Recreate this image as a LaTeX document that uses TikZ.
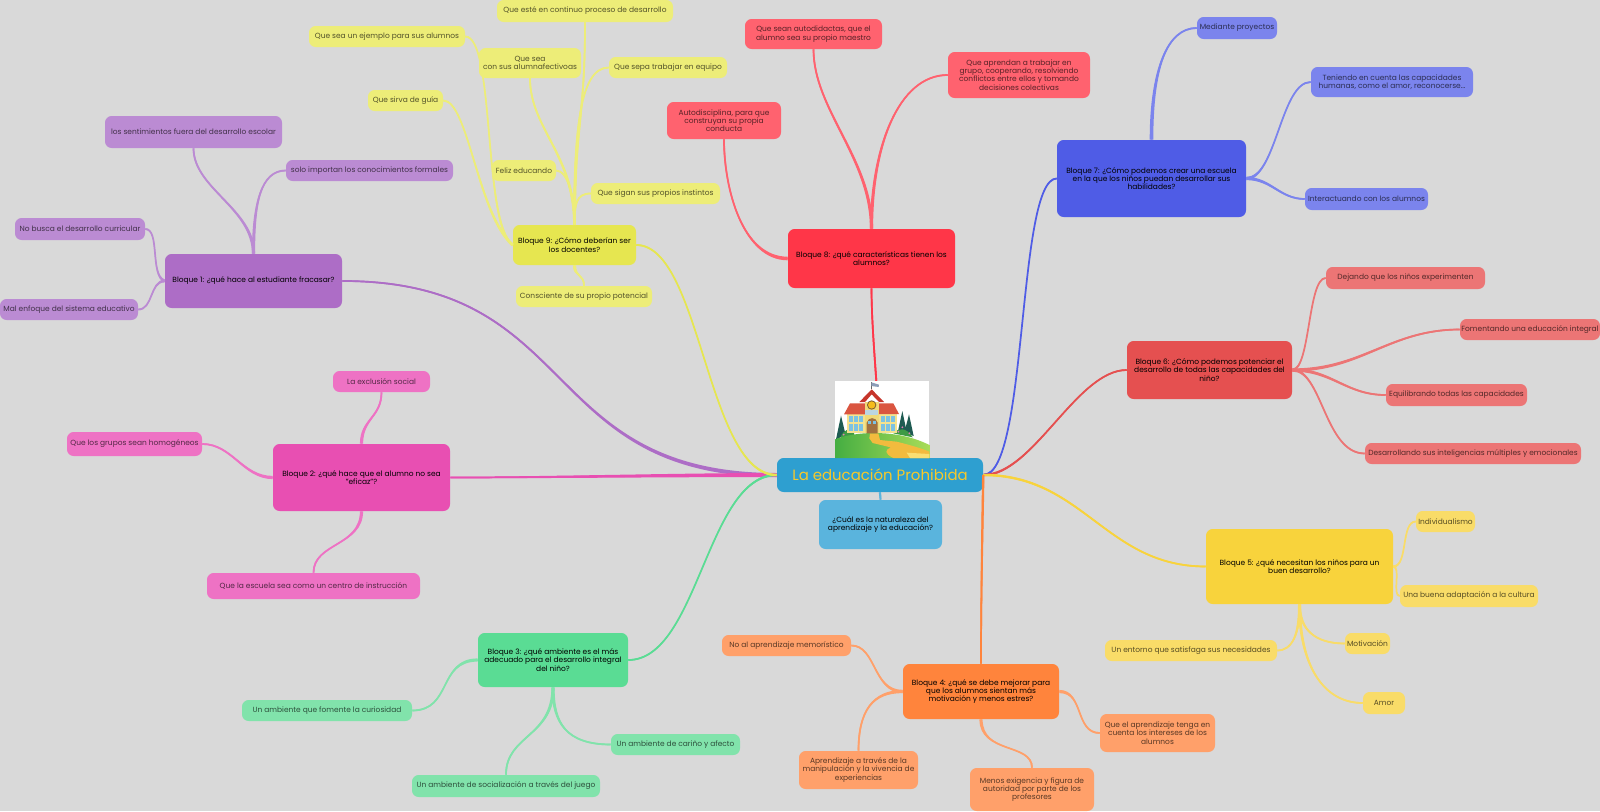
\documentclass[tikz,border=0pt]{standalone}
\usepackage{fontspec}
\setmainfont{Poppins}
\usetikzlibrary{calc}
\definecolor{bgc}{HTML}{D9D9D9}
\definecolor{rootc}{HTML}{2E9FD0}\definecolor{rootk}{HTML}{5AB4DD}\definecolor{titlec}{HTML}{F7C92A}
\definecolor{purm}{HTML}{AD6DC6}\definecolor{purk}{HTML}{BB8BD3}
\definecolor{pinm}{HTML}{E84FB2}\definecolor{pink}{HTML}{EE72C4}
\definecolor{grem}{HTML}{5ADC94}\definecolor{grek}{HTML}{81E3AB}
\definecolor{oram}{HTML}{FF843C}\definecolor{orak}{HTML}{FFA06A}
\definecolor{yelm}{HTML}{F8D33C}\definecolor{yelk}{HTML}{F9DC68}
\definecolor{redm}{HTML}{E55050}\definecolor{redk}{HTML}{EC7575}
\definecolor{blum}{HTML}{4F5CE6}\definecolor{bluk}{HTML}{7B84ED}
\definecolor{crim}{HTML}{FF3648}\definecolor{crik}{HTML}{FF626F}
\definecolor{limm}{HTML}{E6E650}\definecolor{limk}{HTML}{EDED78}
\definecolor{hilld}{HTML}{45AE42}\definecolor{hillm}{HTML}{6CC64A}\definecolor{hilll}{HTML}{A9DC58}
\definecolor{busho}{HTML}{3E9A45}\definecolor{treec}{HTML}{1E5B52}\definecolor{flowc}{HTML}{E77BB5}
\definecolor{pathc}{HTML}{F2BB3E}\definecolor{pathl}{HTML}{F9DF72}\definecolor{wallc}{HTML}{F4E28E}
\definecolor{towc}{HTML}{F0DA78}\definecolor{winc}{HTML}{7CC2E2}\definecolor{roofc}{HTML}{DA5540}
\definecolor{gabc}{HTML}{C6352B}\definecolor{bellc}{HTML}{F5BC1C}\definecolor{bellr}{HTML}{7A5A32}
\definecolor{signc}{HTML}{BBD6E2}\definecolor{doorc}{HTML}{A0703F}\definecolor{flagc}{HTML}{8C9DB8}
\tikzset{
  boxbase/.style={rounded corners=5pt,inner sep=0pt,align=center,font=\fontsize{5.6}{6.2}\selectfont},
  mainbox/.style={boxbase,fill=#1,text=black},
  kidbox/.style={boxbase,fill=#1,text=#1!35!black},
}
\newcommand{\bx}[7]{%
  \pgfmathsetmacro\bxcx{(#3+#5)/2}\pgfmathsetmacro\bxcy{(#4+#6)/2}%
  \pgfmathsetmacro\bxw{(#5-#3)*0.75}\pgfmathsetmacro\bxh{(#6-#4)*0.75}%
  \node[#1,minimum width=\bxw pt,minimum height=\bxh pt] (#2) at (\bxcx,\bxcy) {#7};}
% colour, parent anchor, c1x, c1y, c2x, c2y, child anchor, half width at parent
\newcommand{\conn}[8]{%
  \draw[#1,line width=1.3pt] (#2) .. controls +(#3,#4) and +(#5,#6) .. (#7);
  \pgfmathsetmacro\la{veclen(#3,#4)}\pgfmathsetmacro\lb{veclen(#5,#6)}%
  \pgfmathsetmacro\pax{-(#4)/\la*#8}\pgfmathsetmacro\pay{(#3)/\la*#8}%
  \pgfmathsetmacro\qax{(#6)/\lb*0.8}\pgfmathsetmacro\qay{-(#5)/\lb*0.8}%
  \fill[#1] ($(#2)+(\pax,\pay)$) .. controls +(#3,#4) and +(#5,#6) .. ($(#7)+(\qax,\qay)$)
     -- ($(#7)-(\qax,\qay)$) .. controls +(#5,#6) and +(#3,#4) .. ($(#2)-(\pax,\pay)$) -- cycle;}
\begin{document}
\begin{tikzpicture}[x=0.75pt,y=-0.75pt]
\useasboundingbox (0,0) rectangle (1600,811);
\fill[bgc] (0,0) rectangle (1600,811);
% central
\bx{boxbase,fill=rootc,text=titlec,font=\fontsize{11.2}{13}\selectfont}{root}{777}{458}{983}{492}{La educación Prohibida}
\bx{mainbox=rootk}{cual}{819}{500}{942}{549}{¿Cuál es la naturaleza del\\aprendizaje y la educación?}
% bloque 1
\bx{mainbox=purm}{ba}{165}{254}{342}{308}{Bloque 1: ¿qué hace al estudiante fracasar?}
\bx{kidbox=purk}{aa}{105}{116}{282}{148}{los sentimientos fuera del desarrollo escolar}
\bx{kidbox=purk}{ab}{286}{160}{453}{181}{solo importan los conocimientos formales}
\bx{kidbox=purk}{ac}{15}{218}{145}{240}{No busca el desarrollo curricular}
\bx{kidbox=purk}{ad}{0}{299}{138}{320}{Mal enfoque del sistema educativo}
% bloque 2
\bx{mainbox=pinm}{bb}{273}{444}{450}{511}{Bloque 2: ¿qué hace que el alumno no sea\\"eficaz"?}
\bx{kidbox=pink}{ba1}{333}{371}{430}{392}{La exclusión social}
\bx{kidbox=pink}{ba2}{67}{432}{202}{456}{Que los grupos sean homogéneos}
\bx{kidbox=pink}{ba3}{207}{573}{420}{599}{Que la escuela sea como un centro de instrucción}
% bloque 3
\bx{mainbox=grem}{bc}{478}{633}{628}{687}{Bloque 3: ¿qué ambiente es el más\\adecuado para el desarrollo integral\\del niño?}
\bx{kidbox=grek}{ca}{242}{700}{412}{721}{Un ambiente que fomente la curiosidad}
\bx{kidbox=grek}{cb}{611}{734}{740}{755}{Un ambiente de cariño y afecto}
\bx{kidbox=grek}{cc}{412}{775}{600}{797}{Un ambiente de socialización a través del juego}
% bloque 4
\bx{mainbox=oram}{bd}{903}{664}{1059}{719}{Bloque 4: ¿qué se debe mejorar para\\que los alumnos sientan más\\motivación y menos estres?}
\bx{kidbox=orak}{da}{722}{635}{851}{656}{No al aprendizaje memorístico}
\bx{kidbox=orak}{db}{799}{751}{918}{789}{Aprendizaje a través de la\\manipulación y la vivencia de\\experiencias}
\bx{kidbox=orak}{dc}{970}{768}{1094}{811}{Menos exigencia y figura de\\autoridad por parte de los\\profesores}
\bx{kidbox=orak}{dd}{1100}{714}{1215}{752}{Que el aprendizaje tenga en\\cuenta los intereses de los\\alumnos}
% bloque 5
\bx{mainbox=yelm}{be}{1206}{529}{1393}{604}{Bloque 5: ¿qué necesitan los niños para un\\buen desarrollo?}
\bx{kidbox=yelk}{ea}{1416}{511}{1475}{532}{Individualismo}
\bx{kidbox=yelk}{eb}{1400}{585}{1538}{607}{Una buena adaptación a la cultura}
\bx{kidbox=yelk}{ec}{1345}{633}{1390}{654}{Motivación}
\bx{kidbox=yelk}{ed}{1363}{692}{1405}{714}{Amor}
\bx{kidbox=yelk}{ef}{1105}{640}{1277}{661}{Un entorno que satisfaga sus necesidades}
% bloque 6
\bx{mainbox=redm}{bf}{1127}{341}{1292}{399}{Bloque 6: ¿Cómo podemos potenciar el\\desarrollo de todas las capacidades del\\niño?}
\bx{kidbox=redk}{fa}{1326}{267}{1485}{289}{Dejando que los niños experimenten}
\bx{kidbox=redk}{fb}{1460}{319}{1600}{340}{Fomentando una educación integral}
\bx{kidbox=redk}{fc}{1386}{384}{1527}{406}{Equilibrando todas las capacidades}
\bx{kidbox=redk}{fd}{1365}{443}{1581}{464}{Desarrollando sus inteligencias múltiples y emocionales}
% bloque 7
\bx{mainbox=blum}{bg}{1057}{140}{1246}{217}{Bloque 7: ¿Cómo podemos crear una escuela\\en la que los niños puedan desarrollar sus\\habilidades?}
\bx{kidbox=bluk}{ga}{1197}{17}{1277}{39}{Mediante proyectos}
\bx{kidbox=bluk}{gb}{1311}{67}{1473}{97}{Teniendo en cuenta las capacidades\\humanas, como el amor, reconocerse...}
\bx{kidbox=bluk}{gc}{1305}{188}{1428}{210}{Interactuando con los alumnos}
% bloque 8
\bx{mainbox=crim}{bh}{788}{229}{955}{288}{Bloque 8: ¿qué características tienen los\\alumnos?}
\bx{kidbox=crik}{ha}{745}{19}{882}{49}{Que sean autodidactas, que el\\alumno sea su propio maestro}
\bx{kidbox=crik}{hb}{667}{102}{781}{139}{Autodisciplina, para que\\construyan su propia\\conducta}
\bx{kidbox=crik}{hc}{948}{52}{1090}{98}{Que aprendan a trabajar en\\grupo, cooperando, resolviendo\\conflictos entre ellos y tomando\\decisiones colectivas}
% bloque 9
\bx{mainbox=limm}{bi}{513}{225}{636}{265}{Bloque 9: ¿Cómo deberían ser\\los docentes?}
\bx{kidbox=limk}{ia}{497}{0}{673}{22}{Que esté en continuo proceso de desarrollo}
\bx{kidbox=limk}{ib}{309}{26}{465}{47}{Que sea un ejemplo para sus alumnos}
\bx{kidbox=limk}{ic}{479}{48}{581}{78}{Que sea\\con sus alumnafectivoas}
\bx{kidbox=limk}{id}{609}{57}{727}{78}{Que sepa trabajar en equipo}
\bx{kidbox=limk}{ie}{368}{90}{443}{111}{Que sirva de guía}
\bx{kidbox=limk}{if}{492}{160}{556}{181}{Feliz educando}
\bx{kidbox=limk}{ig}{591}{183}{720}{204}{Que sigan sus propios instintos}
\bx{kidbox=limk}{ih}{516}{286}{652}{307}{Consciente de su propio potencial}
% connectors: root to blocks
\conn{purm}{root.west}{-240}{0}{240}{0}{ba.east}{2}
\conn{pinm}{root.west}{-100}{0}{100}{0}{bb.east}{2}
\conn{grem}{root.west}{-70}{0}{70}{0}{bc.east}{1.2}
\conn{limm}{root.west}{-70}{0}{65}{0}{bi.east}{1.2}
\conn{blum}{root.east}{45}{0}{-40}{0}{bg.west}{1.2}
\conn{redm}{root.east}{50}{0}{-50}{0}{bf.west}{1.2}
\conn{yelm}{root.east}{100}{0}{-100}{0}{be.west}{1.2}
\conn{oram}{root.east}{-1}{60}{0}{-60}{bd.north}{1.2}
\conn{crim}{root.north}{0}{-50}{0}{50}{bh.south}{1.0}
\conn{rootk}{root.south}{0}{3}{0}{-3}{cual.north}{1.2}
% block 1
\conn{purk}{ba.north}{0}{-45}{0}{40}{aa.south}{1.6}
\conn{purk}{ba.north}{0}{-50}{-25}{0}{ab.west}{1.6}
\conn{purk}{ba.west}{-15}{-5}{15}{0}{ac.east}{1.4}
\conn{purk}{ba.west}{-15}{0}{15}{0}{ad.east}{1.4}
% block 2
\conn{pink}{bb.north}{0}{-25}{0}{25}{ba1.south}{1.6}
\conn{pink}{bb.west}{-30}{0}{30}{0}{ba2.east}{1.6}
\conn{pink}{bb.south}{0}{35}{0}{-30}{ba3.north}{1.6}
% block 3
\conn{grek}{bc.west}{-40}{0}{40}{0}{ca.east}{1.6}
\conn{grek}{bc.south}{0}{35}{-45}{0}{cb.west}{1.6}
\conn{grek}{bc.south}{0}{50}{0}{-40}{cc.north}{1.6}
% block 4
\conn{orak}{bd.west}{-30}{0}{25}{0}{da.east}{1.6}
\conn{orak}{bd.west}{-30}{0}{0}{-40}{db.north}{1.6}
\conn{orak}{bd.south}{0}{35}{0}{-25}{dc.north}{1.6}
\conn{orak}{bd.east}{25}{0}{-25}{0}{dd.west}{1.6}
% block 5
\conn{yelk}{be.east}{15}{0}{-15}{0}{ea.west}{1.2}
\conn{yelk}{be.east}{8}{0}{-8}{0}{eb.west}{1.2}
\conn{yelk}{be.south}{0}{25}{-30}{0}{ec.west}{1.5}
\conn{yelk}{be.south}{0}{60}{-40}{0}{ed.west}{1.5}
\conn{yelk}{be.south}{0}{30}{15}{0}{ef.east}{1.5}
% block 6
\conn{redk}{bf.east}{18}{0}{-18}{0}{fa.west}{1.5}
\conn{redk}{bf.east}{70}{0}{-70}{0}{fb.west}{1.6}
\conn{redk}{bf.east}{40}{0}{-40}{0}{fc.west}{1.6}
\conn{redk}{bf.east}{30}{0}{-40}{0}{fd.west}{1.5}
% block 7
\conn{bluk}{bg.north}{0}{-70}{-30}{0}{ga.west}{1.8}
\conn{bluk}{bg.east}{30}{0}{-30}{0}{gb.west}{1.6}
\conn{bluk}{bg.east}{25}{0}{-25}{0}{gc.west}{1.6}
% block 8
\conn{crik}{bh.north}{0}{-70}{0}{60}{ha.south}{1.6}
\conn{crik}{bh.north}{0}{-80}{-50}{0}{hc.west}{1.6}
\conn{crik}{bh.west}{-45}{0}{0}{50}{hb.south}{1.8}
% block 9
\conn{limk}{bi.north}{0}{-100}{0}{100}{ia.south}{1.4}
\conn{limk}{bi.west}{-30}{-20}{30}{0}{ib.east}{1.4}
\conn{limk}{bi.north}{0}{-70}{0}{50}{ic.south}{1.4}
\conn{limk}{bi.north}{0}{-90}{-30}{0}{id.west}{1.4}
\conn{limk}{bi.west}{-35}{-30}{25}{0}{ie.east}{1.4}
\conn{limk}{bi.north}{0}{-25}{12}{0}{if.east}{1.2}
\conn{limk}{bi.north}{0}{-20}{-15}{0}{ig.west}{1.2}
\conn{limk}{bi.south}{0}{12}{0}{-12}{ih.north}{1.6}
% school picture (coordinates in thirds of a pixel)
\begin{scope}[shift={(730,350)},x=0.25pt,y=-0.25pt]
\fill[white] (315,92) rectangle (598,324);
% trees
\fill[treec] (318,268) -- (333,197) -- (347,255) -- cycle;
\fill[treec] (503,248) -- (517,183) -- (529,240) -- cycle;
\fill[treec] (523,248) -- (537,193) -- (551,258) -- cycle;
% bushes
\fill[busho] (332,262) .. controls (340,238) and (360,232) .. (372,248) -- (372,265) -- cycle;
\fill[busho] (490,250) .. controls (505,232) and (530,232) .. (548,262) -- cycle;
% hill
\shade[left color=hilld,middle color=hillm,right color=hilll]
  (315,268) .. controls (370,245) and (500,235) .. (598,285) -- (598,324) -- (315,324) -- cycle;
% flowers
\foreach \fx/\fy in {341/254,505/245,517/232,538/250}{\fill[flowc] (\fx,\fy) circle (3);}
% path
\fill[pathc] (420,250) -- (445,250) -- (450,270) -- (500,275) .. controls (540,285) and (575,295) .. (598,305)
  -- (598,324) -- (490,324) .. controls (462,310) and (465,300) .. (482,292) -- (428,279) -- (418,265) -- cycle;
\fill[pathl] (530,308) -- (598,312) -- (598,324) -- (540,324) -- cycle;
% wings
\fill[wallc] (350,193) rectangle (502,250);
% windows
\foreach \wx in {357,372,387,452,467,482}{
  \foreach \wy in {197,222}{\fill[winc] (\wx,\wy) rectangle +(12,20);}}
% roofs
\fill[roofc] (342,193) -- (360,160) -- (410,160) -- (410,193) -- cycle;
\fill[roofc] (442,160) -- (490,160) -- (507,192) -- (442,192) -- cycle;
% tower
\fill[towc] (405,155) rectangle (447,250);
\fill[gabc] (388,156) -- (425,118) -- (462,156) -- (447,156) -- (425,133) -- (405,156) -- cycle;
\fill[bellr] (425,165) circle (14);
\fill[bellc] (425,165) circle (11);
\fill[signc] (405,180) rectangle (445,194);
% door
\fill[doorc] (410,250) -- (410,218) .. controls (415,200) and (438,200) .. (443,218) -- (443,250) -- cycle;
\fill[winc] (415,212) rectangle (423,222);
\fill[winc] (430,212) rectangle (438,222);
% flag
\draw[black!60,line width=0.4pt] (423,96) -- (423,118);
\fill[flagc] (424,97) -- (447,104) -- (446,111) -- (424,108) -- cycle;
\end{scope}
\end{tikzpicture}
\end{document}
